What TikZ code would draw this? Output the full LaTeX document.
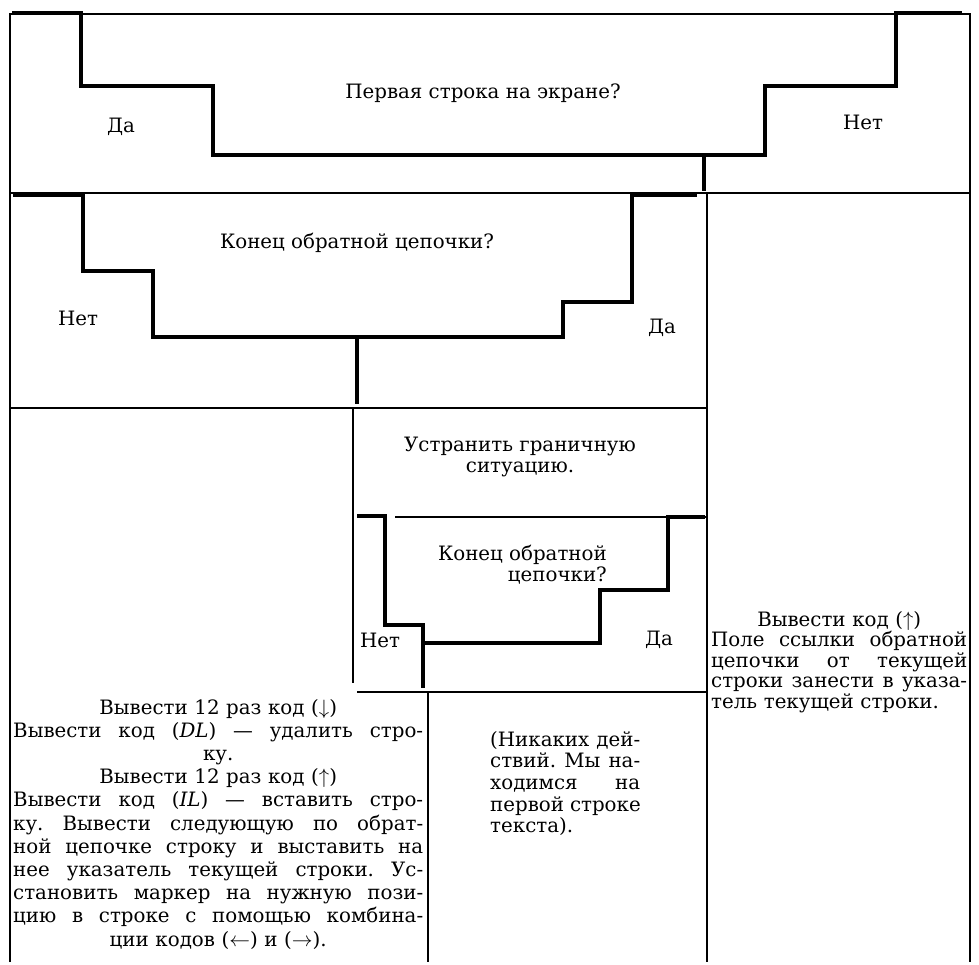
\documentclass[tikz,border=0pt]{standalone}
\usepackage{fontspec}
\setmainfont{DejaVu Serif}
\newcommand{\jline}[1]{\hbox to\hsize{\spaceskip=.3em plus 1fil\xspaceskip=\spaceskip #1}\par}
\newcommand{\mline}[1]{\hbox to\hsize{\hss#1\hss}\par}
\newcommand{\lline}[1]{\hbox to\hsize{#1\hss}\par}

\begin{document}
\begin{tikzpicture}[x=1pt,y=-1pt,
    rule/.style={line width=1.2pt},
    heavy/.style={line width=4.5pt},
    every node/.style={inner sep=0pt,font=\fontsize{19.8}{21}\selectfont}]
  \useasboundingbox (0,0) rectangle (979,965);

  % frame and separators
  \draw[rule] (10,962) -- (10,14) -- (970,14) -- (970,962);
  \draw[rule] (10,193) -- (970,193);
  \draw[rule] (707,193) -- (707,962);
  \draw[rule] (10,408) -- (707,408);
  \draw[rule] (353,408) -- (353,683);
  \draw[rule] (395,517) -- (707,517);
  \draw[rule] (357,692) -- (707,692);
  \draw[rule] (428,692) -- (428,962);

  % first test
  \draw[heavy] (12,13) -- (81,13) -- (81,86) -- (213,86) -- (213,155)
    -- (765,155) -- (765,86) -- (896,86) -- (896,13) -- (962,13);
  \draw[heavy] (704,155) -- (704,191);
  \node (first) at (483,93) {Первая строка на экране?};
  \node (yes1) at (121,127) {Да};
  \node (no1) at (863,122) {Нет};

  % second test
  \draw[heavy] (13,195) -- (83,195) -- (83,271) -- (153,271) -- (153,337)
    -- (563,337) -- (563,302) -- (632,302) -- (632,195) -- (697,195);
  \draw[heavy] (357,337) -- (357,404);
  \node (chain) at (357,243) {Конец обратной цепочки?};
  \node (no2) at (78,318) {Нет};
  \node (yes2) at (662,328) {Да};

  % inner test
  \node[align=center] (fix) at (520,457) {Устранить граничную\\ситуацию.};
  \draw[heavy] (357,516) -- (385,516) -- (385,625) -- (423,625) -- (423,688);
  \draw[heavy] (423,643) -- (600,643) -- (600,590) -- (668,590) -- (668,517)
    -- (705,517);
  \node[align=right,anchor=east] (chain2) at (607,565) {Конец обратной\\цепочки?};
  \node (no3) at (380,640) {Нет};
  \node (yes3) at (659,640) {Да};

  % actions
  \node[text width=410pt,anchor=base west,font=\fontsize{19.8}{23.2}\selectfont]
    (redraw) at (13,714) {%
    \mline{Вывести 12 раз код ($\downarrow$)}%
    \jline{Вывести код (\textit{DL})~— удалить стро-}%
    \mline{ку.}%
    \mline{Вывести 12 раз код ($\uparrow$)}%
    \jline{Вывести код (\textit{IL})~— вставить стро-}%
    \jline{ку. Вывести следующую по обрат-}%
    \jline{ной цепочке строку и выставить на}%
    \jline{нее указатель текущей строки. Ус-}%
    \jline{становить маркер на нужную пози-}%
    \jline{цию в строке с помощью комбина-}%
    \mline{ции кодов ($\leftarrow$) и ($\rightarrow$).}};
  \node[text width=150pt,anchor=base west,font=\fontsize{19.8}{21.7}\selectfont]
    (none) at (490,746) {%
    \jline{(Никаких дей-}%
    \jline{ствий. Мы на-}%
    \jline{ходимся на}%
    \jline{первой строке}%
    \lline{текста).}};
  \node[text width=256pt,anchor=base west,font=\fontsize{19.8}{20.5}\selectfont]
    (up) at (711,626) {%
    \mline{Вывести код ($\uparrow$)}%
    \jline{Поле ссылки обратной}%
    \jline{цепочки от текущей}%
    \jline{строки занести в указа-}%
    \lline{тель текущей строки.}};
\end{tikzpicture}
\end{document}
